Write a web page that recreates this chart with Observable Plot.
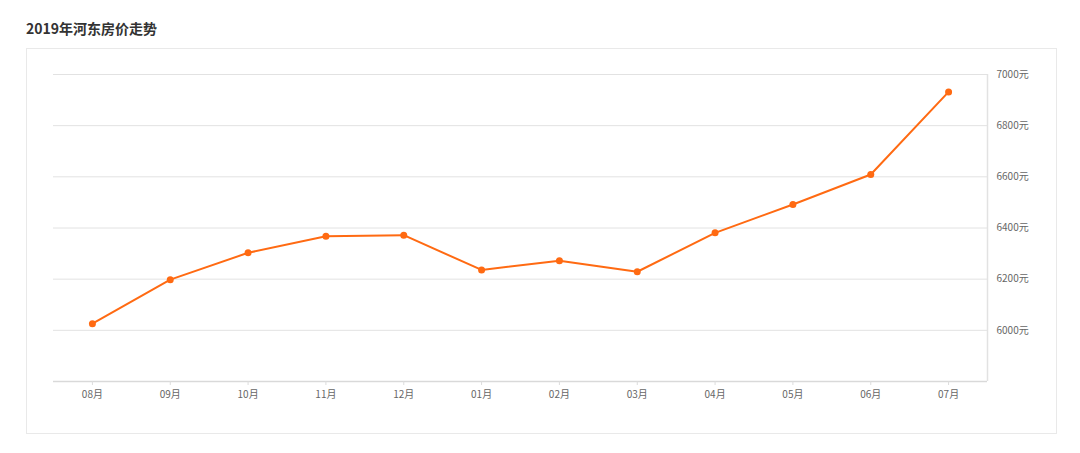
<!DOCTYPE html>
<html>
<head>
<meta charset="utf-8">
<script src="https://cdn.jsdelivr.net/npm/d3@7"></script>
<script src="https://cdn.jsdelivr.net/npm/@observablehq/plot@0.6"></script>
<style>
  html, body { margin: 0; padding: 0; background: #fff; }
  body { width: 1080px; height: 453px; position: relative; overflow: hidden;
         font-family: "Noto Sans CJK SC", "Noto Sans", sans-serif; }
  #title { position: absolute; left: 26px; top: 18px; font-size: 14px; font-weight: bold; color: #333; line-height: 20px; }
  #panel { position: absolute; left: 26px; top: 48px; width: 1029px; height: 384px; border: 1px solid #e9e9e9; }
  #panel svg { display: block; }
</style>
</head>
<body>
<div id="title">2019年河东房价走势</div>
<div id="panel"></div>
<script>
const months = ["08月","09月","10月","11月","12月","01月","02月","03月","04月","05月","06月","07月"];
const prices = [6026, 6198, 6303, 6368, 6372, 6236, 6272, 6229, 6381, 6492, 6609, 6932];
const yTicks = [6000, 6200, 6400, 6600, 6800, 7000];
const yMin = 5800, yMax = 7000;

const data = months.map((m, i) => ({i, month: m, price: prices[i]}));
const idx = months.map((m, i) => i);
const lo = -0.5, hi = months.length - 0.5;

const chart = Plot.plot({
  width: 1029,
  height: 384,
  marginLeft: 26,
  marginRight: 69,
  marginTop: 25,
  marginBottom: 52,
  style: {fontFamily: '"Noto Sans CJK SC", "Noto Sans", sans-serif', fontSize: "10px", color: "#666", background: "#fff"},
  x: {domain: [lo, hi], axis: null, label: null},
  y: {domain: [yMin, yMax], axis: null, label: null},
  marks: [
    Plot.ruleY(yTicks, {x1: lo, x2: hi, stroke: "#e2e2e2", strokeWidth: 1}),
    Plot.ruleY([yMin], {x1: lo, x2: hi, stroke: "#d9d9d9", strokeWidth: 1.5}),
    Plot.ruleX([hi], {y1: yMin, y2: yMax, stroke: "#e2e2e2", strokeWidth: 1.5}),
    Plot.axisX({ticks: idx, tickFormat: i => months[i], tickSize: 4, tickPadding: 5, stroke: "#dcdcdc", fill: "#666", fontSize: 10, label: null}),
    Plot.axisY({anchor: "right", ticks: yTicks, tickFormat: d => d + "元", tickSize: 0, tickPadding: 9, fill: "#666", fontSize: 10, label: null}),
    Plot.line(data, {x: "i", y: "price", stroke: "#ff6a12", strokeWidth: 2}),
    Plot.dot(data, {x: "i", y: "price", r: 3.5, fill: "#ff6a12", stroke: "none"})
  ]
});
document.getElementById("panel").appendChild(chart);
</script>
</body>
</html>
